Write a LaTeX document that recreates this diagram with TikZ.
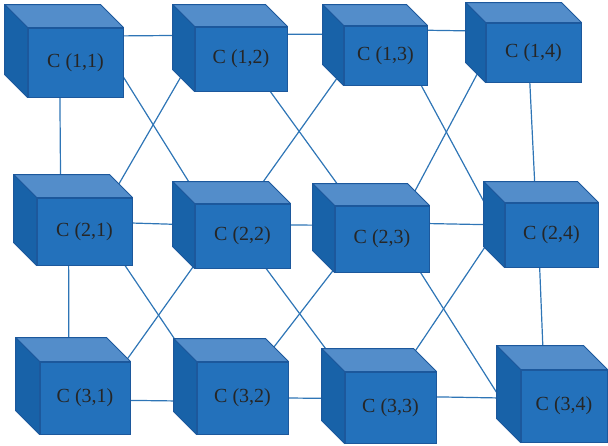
\documentclass[tikz,border=0pt]{standalone}
\usepackage{fontspec}
\setmainfont{Liberation Serif}
\usepackage{tikz}

\pgfdeclarelayer{background}
\pgfsetlayers{background,main}

\definecolor{cubefront}{RGB}{35,113,187}
\definecolor{cubetop}{RGB}{83,141,202}
\definecolor{cubeside}{RGB}{24,98,168}
\definecolor{cubeedge}{RGB}{28,88,156}
\definecolor{linkblue}{RGB}{46,117,182}
\definecolor{labelgray}{RGB}{38,38,38}

\begin{document}
\begin{tikzpicture}[x=1pt, y=-1pt,
    cube/.style={draw=cubeedge, fill=cubefront, line width=1pt, inner sep=0pt, text=labelgray,
        font=\fontsize{20}{20}\selectfont,
        append after command={\pgfextra{
            \draw[cubeedge, fill=cubetop, line width=1pt, line join=round] (\tikzlastnode.north west) -- ++(-#1,-#1)
                -- ([shift={(-#1,-#1)}]\tikzlastnode.north east) -- (\tikzlastnode.north east) -- cycle;
            \draw[cubeedge, fill=cubeside, line width=1pt, line join=round] (\tikzlastnode.north west) -- ++(-#1,-#1)
                -- ([shift={(-#1,-#1)}]\tikzlastnode.south west) -- (\tikzlastnode.south west) -- cycle;
        }}},
    cube/.default=22,
    link/.style={linkblue, line width=1.2pt}]
        \useasboundingbox (0,0) rectangle (608,445);

        \node[cube=23, minimum width=95, minimum height=69] (c11) at (75.5,62.5) {C (1,1)};
        \node[cube=22, minimum width=92, minimum height=64] (c12) at (241,59) {C (1,2)};
        \node[cube=21, minimum width=83, minimum height=59] (c13) at (385.5,55.5) {C (1,3)};
        \node[cube=20, minimum width=95, minimum height=59] (c14) at (533.5,52.5) {C (1,4)};
        \node[cube=23, minimum width=95, minimum height=67] (c21) at (84.5,231.5) {C (2,1)};
        \node[cube=22, minimum width=95, minimum height=64] (c22) at (242.5,236) {C (2,2)};
        \node[cube=22, minimum width=94, minimum height=66] (c23) at (382,239) {C (2,3)};
        \node[cube=21, minimum width=93, minimum height=64] (c24) at (551.5,235) {C (2,4)};
        \node[cube=24, minimum width=90, minimum height=72] (c31) at (85,398) {C (3,1)};
        \node[cube=23, minimum width=91, minimum height=72] (c32) at (242.5,398) {C (3,2)};
        \node[cube=23, minimum width=91, minimum height=71] (c33) at (390.5,407.5) {C (3,3)};
        \node[cube=24, minimum width=86, minimum height=72] (c34) at (564,406) {C (3,4)};

        \begin{pgfonlayer}{background}
        \draw[link] (c11.29) -- (c12.153);
        \draw[link] (c12.28) -- (c13.153);
        \draw[link] (c13.31) -- (c14.156);
        \draw[link] (c21.10) -- (c22.167);
        \draw[link] (c22.13) -- (c23.164);
        \draw[link] (c23.18) -- (c24.168);
        \draw[link] (c31.357) -- (c32.184);
        \draw[link] (c32.east) -- (c33.169);
        \draw[link] (c33.13) -- (c34.170);

        \draw[link] (c11.246) -- (c21.125);
        \draw[link] (c21.245) -- (c31.114);
        \draw[link] (c14.263) -- (c24.116);
        \draw[link] (c24.250) -- (c34.119);

        \draw[link] (c11.343) -- (c22.141);
        \draw[link] (c12.173) -- (c21.52);
        \draw[link] (c12.312) -- (c23.131);
        \draw[link] (c13.198) -- (c22.81);
        \draw[link] (c13.320) -- (c24.186);
        \draw[link] (c14.187) -- (c23.53);
        \draw[link] (c21.320) -- (c32.150);
        \draw[link] (c22.211) -- (c31.42);
        \draw[link] (c22.306) -- (c33.144);
        \draw[link] (c23.212) -- (c32.61);
        \draw[link] (c23.319) -- (c34.209);
        \draw[link] (c24.160) -- (c33.73);
        \end{pgfonlayer}
\end{tikzpicture}
\end{document}
